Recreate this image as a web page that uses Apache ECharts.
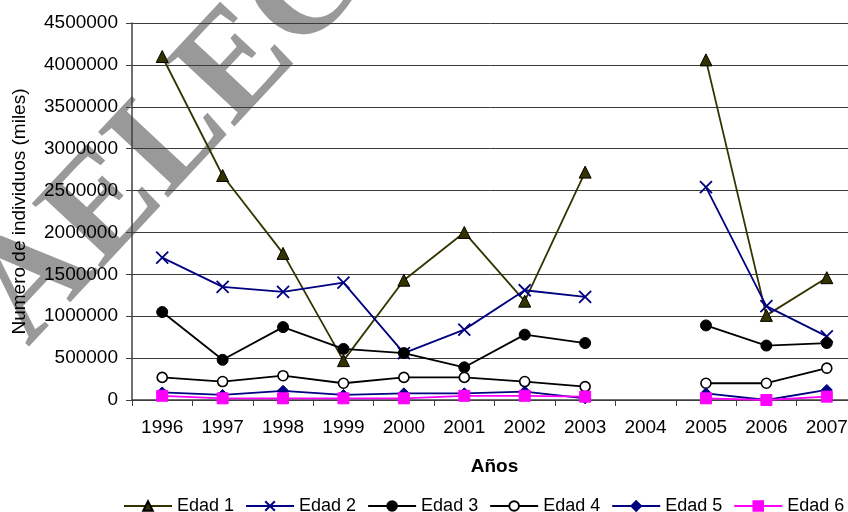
<!DOCTYPE html>
<html>
<head>
<meta charset="utf-8">
<script src="https://cdn.jsdelivr.net/npm/echarts@6/dist/echarts.min.js"></script>
<style>html,body{margin:0;padding:0;background:#fff}#c{width:848px;height:512px}</style>
</head>
<body>
<div id="c"></div>
<script>
const years = ['1996','1997','1998','1999','2000','2001','2002','2003','2004','2005','2006','2007'];
const edad1 = [4100000, 2680000, 1750000, 470000, 1430000, 2000000, 1180000, 2720000, null, 4060000, 1010000, 1460000];
const edad2 = [1700000, 1350000, 1290000, 1400000, 560000, 840000, 1310000, 1230000, null, 2540000, 1120000, 760000];
const edad3 = [1050000, 480000, 870000, 610000, 560000, 390000, 780000, 680000, null, 890000, 650000, 680000];
const edad4 = [270000, 220000, 290000, 200000, 270000, 270000, 220000, 160000, null, 200000, 200000, 380000];
const edad5 = [90000, 60000, 110000, 60000, 80000, 80000, 100000, 20000, null, 80000, 0, 120000];
const edad6 = [50000, 20000, 20000, 20000, 20000, 50000, 50000, 40000, null, 20000, 0, 40000];
const seriesNames = ['Edad 1','Edad 2','Edad 3','Edad 4','Edad 5','Edad 6'];
const xTitle = 'Años';
const yTitle = 'Numero de individuos (miles)';
const watermark = 'AELEC';

const font = '"Liberation Sans", Arial, sans-serif';
const crossPath = 'path://M0,0L10,10M10,0L0,10';

function mk(name, data, color, symbol, size, fill, border, bw) {
  return {
    name: name, type: 'line', data: data, connectNulls: false,
    symbol: symbol, symbolSize: size, showAllSymbol: true,
    lineStyle: {color: color, width: 1.8},
    itemStyle: {color: fill, borderColor: border, borderWidth: bw},
    emphasis: {disabled: true}, animation: false, clip: false
  };
}

const chart = echarts.init(document.getElementById('c'), null, {renderer: 'canvas'});
chart.setOption({
  backgroundColor: '#ffffff',
  animation: false,
  graphic: [{
    type: 'text', z: -100, x: 172, y: 138, rotation: 0.82,
    style: {text: watermark, x: 0, y: 0, font: 'bold 146px "Liberation Serif", "Times New Roman", serif',
      fill: '#999999', align: 'center', verticalAlign: 'middle'}
  }],
  grid: {left: 132, top: 23, width: 725, bottom: 112, containLabel: false, outerBoundsMode: 'none'},
  legend: {
    left: 118, top: 492, width: 780, itemWidth: 48, itemHeight: 12, itemGap: 11,
    textStyle: {fontFamily: font, fontSize: 18, color: '#000'},
    data: seriesNames
  },
  xAxis: {
    type: 'category', data: years, boundaryGap: true,
    name: xTitle, nameLocation: 'middle', nameGap: 57,
    nameTextStyle: {fontFamily: font, fontSize: 19, fontWeight: 'bold', color: '#000'},
    axisLine: {lineStyle: {color: '#404040', width: 1.5}},
    axisTick: {show: true, length: 6, lineStyle: {color: '#404040'}},
    axisLabel: {fontFamily: font, fontSize: 19, color: '#000', margin: 18},
    splitLine: {show: false}
  },
  yAxis: {
    type: 'value', min: 0, max: 4500000, interval: 500000,
    name: yTitle, nameLocation: 'middle', nameGap: 103, nameRotate: 90,
    nameTextStyle: {fontFamily: font, fontSize: 19, color: '#000'},
    axisLine: {show: true, lineStyle: {color: '#404040', width: 1.5}},
    axisTick: {show: true, length: 6, lineStyle: {color: '#404040'}},
    axisLabel: {fontFamily: font, fontSize: 19, color: '#000', margin: 14,
      formatter: function (v) { return String(v); }},
    splitLine: {show: true, lineStyle: {color: '#3a3a3a', width: 1}}
  },
  series: [
    mk(seriesNames[0], edad1, '#333300', 'triangle', 12, '#333300', '#000000', 1),
    mk(seriesNames[1], edad2, '#000080', crossPath, 12, 'none', '#000080', 1.8),
    mk(seriesNames[2], edad3, '#000000', 'circle', 11, '#000000', '#000000', 1),
    mk(seriesNames[3], edad4, '#000000', 'circle', 10, '#ffffff', '#000000', 1.6),
    mk(seriesNames[4], edad5, '#000080', 'diamond', 11, '#000080', '#000080', 1),
    mk(seriesNames[5], edad6, '#ff00ff', 'rect', 11, '#ff00ff', '#ff00ff', 1)
  ]
});
</script>
</body>
</html>
